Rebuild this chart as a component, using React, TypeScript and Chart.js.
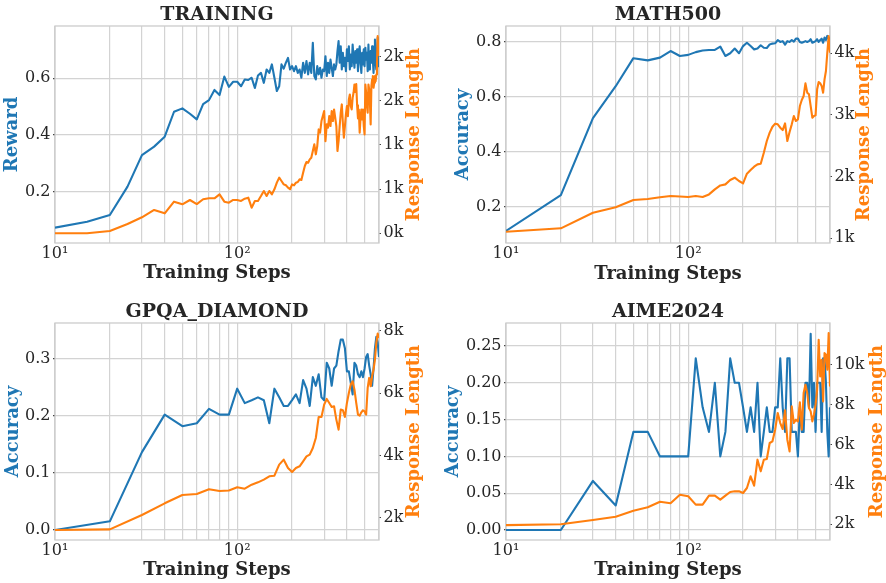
import React, { useEffect, useRef } from 'react';
import { Chart, registerables } from 'chart.js';

Chart.register(...registerables);

// ---------------- data ----------------
const TRAIN_STEPS = [
  10, 15, 20, 25, 30, 35, 40, 45, 50, 55, 60, 65, 70, 75, 80, 85, 90, 95, 100,
  105, 110, 115, 120, 125, 130, 135, 140, 145, 150, 155, 160, 165, 170, 175, 180, 185, 190, 195, 200,
  205, 210, 215, 220, 225, 230, 235, 240, 245, 250, 255, 260, 265, 270, 275, 280, 285, 290, 295, 300,
  305, 310, 315, 320, 325, 330, 335, 340, 345, 350, 355, 360, 365, 370, 375, 380, 385, 390, 395, 400,
  405, 410, 415, 420, 425, 430, 435, 440, 445, 450, 455, 460, 465, 470, 475, 480, 485, 490, 495, 500,
  505, 510, 515, 520, 525, 530, 535, 540, 545, 550, 555, 560, 565, 570, 575, 580, 585, 590, 595, 600,
];

const TRAIN_REWARD = [
  0.073, 0.094, 0.118, 0.218, 0.329, 0.359, 0.394, 0.482, 0.494, 0.475, 0.455, 0.509, 0.523, 0.559, 0.541, 0.606, 0.570, 0.588, 0.588,
  0.572, 0.596, 0.594, 0.602, 0.566, 0.610, 0.619, 0.584, 0.631, 0.619, 0.649, 0.602, 0.555, 0.572, 0.649, 0.634, 0.655, 0.672, 0.631, 0.643,
  0.625, 0.643, 0.619, 0.631, 0.602, 0.655, 0.619, 0.661, 0.614, 0.655, 0.619, 0.725, 0.608, 0.596, 0.643, 0.614, 0.637, 0.602, 0.631, 0.625,
  0.678, 0.608, 0.655, 0.619, 0.666, 0.637, 0.608, 0.649, 0.631, 0.649, 0.696, 0.731, 0.655, 0.713, 0.631, 0.690, 0.643, 0.672, 0.625, 0.702,
  0.661, 0.713, 0.631, 0.684, 0.643, 0.719, 0.672, 0.637, 0.696, 0.655, 0.702, 0.625, 0.678, 0.713, 0.655, 0.619, 0.690, 0.649, 0.702, 0.643,
  0.708, 0.666, 0.690, 0.625, 0.719, 0.631, 0.672, 0.696, 0.655, 0.713, 0.666, 0.619, 0.678, 0.737, 0.655, 0.631, 0.678, 0.743, 0.643, 0.672,
];

const TRAIN_LENGTH = [
  500, 500, 526, 605, 681, 764, 726, 858, 828, 877, 831, 885, 896, 896, 941, 858, 846, 877, 877,
  866, 892, 903, 790, 866, 866, 922, 979, 922, 979, 941, 998, 1073, 1130, 1092, 1054, 1043, 1017, 998, 1054,
  1043, 1073, 1081, 1111, 1103, 1186, 1262, 1307, 1299, 1337, 1356, 1431, 1507, 1394, 1488, 1676, 1639, 1771, 1827, 1884,
  1544, 1733, 1695, 1827, 1714, 1884, 1771, 1902, 1808, 1714, 1431, 1544, 1714, 1865, 1959, 1752, 1582, 1714, 1846, 1940,
  1827, 2016, 2072, 1940, 1902, 2034, 2091, 2185, 2100, 2190, 1950, 1800, 1900, 1640, 1800, 1902, 1789, 1902, 1714, 1620,
  2185, 2091, 1940, 1865, 2185, 2129, 1978, 1733, 2166, 2242, 2280, 2148, 2204, 2280, 2223, 2298, 2430, 2732, 2581, 2506,
];

const EVAL_STEPS = [
  10, 20, 30, 40, 50, 60, 70, 80, 90, 100,
  110, 120, 130, 140, 150, 160, 170, 180, 190, 200,
  210, 220, 230, 240, 250, 260, 270, 280, 290, 300,
  310, 320, 330, 340, 350, 360, 370, 380, 390, 400,
  410, 420, 430, 440, 450, 460, 470, 480, 490, 500,
  510, 520, 530, 540, 550, 560, 570, 580, 590, 600,
];

const MATH_ACC = [
  0.112, 0.242, 0.522, 0.638, 0.740, 0.732, 0.742, 0.766, 0.748, 0.752,
  0.762, 0.768, 0.770, 0.770, 0.782, 0.748, 0.758, 0.775, 0.758, 0.784,
  0.796, 0.784, 0.772, 0.775, 0.787, 0.778, 0.777, 0.790, 0.793, 0.794,
  0.806, 0.799, 0.802, 0.789, 0.802, 0.799, 0.806, 0.800, 0.811, 0.811,
  0.799, 0.796, 0.799, 0.802, 0.799, 0.802, 0.809, 0.796, 0.799, 0.802,
  0.809, 0.799, 0.806, 0.811, 0.796, 0.815, 0.806, 0.821, 0.809, 0.815,
];
const MATH_LEN = [
  1107, 1162, 1415, 1503, 1621, 1637, 1665, 1686, 1678, 1669,
  1685, 1669, 1712, 1794, 1858, 1875, 1945, 1983, 1929, 1891,
  2048, 2107, 2161, 2199, 2210, 2388, 2578, 2713, 2810, 2859,
  2848, 2794, 2756, 2864, 2578, 2724, 2848, 2983, 2902, 2929,
  3145, 3243, 3308, 3513, 3362, 3335, 3145, 2956, 2983, 2994,
  3416, 3535, 3513, 3470, 3362, 3578, 3713, 4010, 4281, 4010,
];

const GPQA_ACC = [
  0.0, 0.0152, 0.1364, 0.2020, 0.1818, 0.1869, 0.2121, 0.2020, 0.2020, 0.2475,
  0.2222, 0.2273, 0.2323, 0.2273, 0.1869, 0.2475, 0.2323, 0.2172, 0.2172, 0.2273,
  0.2374, 0.2222, 0.2626, 0.2475, 0.2172, 0.2677, 0.2525, 0.2727, 0.2323, 0.2273,
  0.2929, 0.2828, 0.2525, 0.2828, 0.2879, 0.3131, 0.3333, 0.3333, 0.3182, 0.2778,
  0.2778, 0.2576, 0.2374, 0.2929, 0.2879, 0.2727, 0.2677, 0.2778, 0.2677, 0.2828,
  0.3030, 0.3081, 0.2879, 0.2727, 0.2525, 0.2828, 0.3182, 0.3384, 0.3283, 0.3030,
];
const GPQA_LEN = [
  1605, 1627, 2087, 2462, 2729, 2761, 2911, 2857, 2873, 2975,
  2932, 3060, 3135, 3221, 3328, 3349, 3702, 3863, 3596, 3467,
  3596, 3649, 3810, 3970, 4024, 4237, 4558, 5233, 5233, 5629,
  5810, 5682, 5554, 5575, 5147, 4826, 5468, 5447, 5233, 5682,
  6003, 6271, 6378, 6110, 5682, 5308, 5275, 5382, 5447, 5414,
  5308, 6164, 6485, 6217, 6538, 6752, 7073, 7608, 7908, 7768,
];

const AIME_ACC = [
  0.0, 0.0, 0.0667, 0.0333, 0.1333, 0.1333, 0.1, 0.1, 0.1, 0.1,
  0.2333, 0.1667, 0.1333, 0.2, 0.1, 0.1333, 0.2333, 0.2, 0.2, 0.1667,
  0.1333, 0.1667, 0.1333, 0.2, 0.1, 0.1333, 0.1667, 0.1333, 0.1333, 0.1667,
  0.1667, 0.2333, 0.1667, 0.1333, 0.2333, 0.2333, 0.1333, 0.1333, 0.1333, 0.1,
  0.1667, 0.1333, 0.1333, 0.2, 0.2, 0.1667, 0.2667, 0.1667, 0.2, 0.1333,
  0.2, 0.2, 0.2, 0.1333, 0.2333, 0.2333, 0.2, 0.1333, 0.1, 0.1667,
];
const AIME_LEN = [
  1960, 2000, 2215, 2382, 2683, 2853, 3135, 3054, 3489, 3405,
  2987, 2987, 3439, 3439, 3238, 3439, 3623, 3656, 3656, 3573,
  3824, 4409, 3941, 5246, 4660, 5246, 5279, 6082, 6166, 6751,
  7588, 7086, 6785, 7722, 6249, 5664, 7923, 7086, 7253, 7169,
  8123, 6751, 8592, 9010, 8592, 7839, 7672, 7169, 7504, 8006,
  8759, 11270, 9428, 10265, 8173, 10599, 10515, 9763, 11603, 8926,
];

const X_GRID_TICKS = [10, 20, 30, 40, 50, 60, 70, 80, 90, 100, 200, 300, 400, 500, 600];
const X_TICK_LABELS: Record<number, string> = { 10: '10\u00B9', 100: '10\u00B2' };

const REWARD_TICKS = [0.2, 0.4, 0.6];
const TRAIN_LEN_TICKS = [500, 1000, 1500, 2000, 2500];
const MATH_ACC_TICKS = [0.2, 0.4, 0.6, 0.8];
const MATH_LEN_TICKS = [1000, 2000, 3000, 4000];
const GPQA_ACC_TICKS = [0.0, 0.1, 0.2, 0.3];
const GPQA_LEN_TICKS = [2000, 4000, 6000, 8000];
const AIME_ACC_TICKS = [0.0, 0.05, 0.1, 0.15, 0.2, 0.25];
const AIME_LEN_TICKS = [2000, 4000, 6000, 8000, 10000];

// ---------------- styles ----------------
const BLUE = '#1f77b4';
const ORANGE = '#ff7f0e';
const TEXT = '#262626';
const GRID = '#d3d3d3';
const FRAME = '#cccccc';
const TICKMARK = '#444444';
const FONT = '"DejaVu Serif", serif';

type PanelCfg = {
  key: string;
  title: string;
  leftLabel: string;
  box: { left: number; top: number; w: number; h: number };
  area: { l: number; r: number; t: number; b: number };
  steps: number[];
  blue: number[];
  orange: number[];
  yl: { min: number; max: number; ticks: number[]; dec: number };
  yr: { min: number; max: number; ticks: number[] };
  text: { titleY: number; leftX: number; rightX: number; bottomY: number };
};

const PANELS: PanelCfg[] = [
  {
    key: 'train', title: 'TRAINING', leftLabel: 'Reward',
    box: { left: 0, top: 0, w: 443, h: 290 },
    area: { l: 55, r: 64, t: 26, b: 47 },
    steps: TRAIN_STEPS, blue: TRAIN_REWARD, orange: TRAIN_LENGTH,
    yl: { min: 0.019, max: 0.7845, ticks: REWARD_TICKS, dec: 1 },
    yr: { min: 390, max: 2847, ticks: TRAIN_LEN_TICKS },
    text: { titleY: 15, leftX: 12, rightX: 414, bottomY: 273 },
  },
  {
    key: 'math', title: 'MATH500', leftLabel: 'Accuracy',
    box: { left: 443, top: 0, w: 443, h: 290 },
    area: { l: 63, r: 56, t: 26, b: 47 },
    steps: EVAL_STEPS, blue: MATH_ACC, orange: MATH_LEN,
    yl: { min: 0.068, max: 0.857, ticks: MATH_ACC_TICKS, dec: 1 },
    yr: { min: 924, max: 4443, ticks: MATH_LEN_TICKS },
    text: { titleY: 15, leftX: 20.5, rightX: 421.5, bottomY: 274 },
  },
  {
    key: 'gpqa', title: 'GPQA_DIAMOND', leftLabel: 'Accuracy',
    box: { left: 0, top: 290, w: 443, h: 293 },
    area: { l: 55, r: 64, t: 33, b: 43 },
    steps: EVAL_STEPS, blue: GPQA_ACC, orange: GPQA_LEN,
    yl: { min: -0.0175, max: 0.3625, ticks: GPQA_ACC_TICKS, dec: 1 },
    yr: { min: 1285, max: 8247, ticks: GPQA_LEN_TICKS },
    text: { titleY: 22.5, leftX: 13, rightX: 414, bottomY: 280 },
  },
  {
    key: 'aime', title: 'AIME2024', leftLabel: 'Accuracy',
    box: { left: 443, top: 290, w: 443, h: 293 },
    area: { l: 63, r: 56, t: 33, b: 43 },
    steps: EVAL_STEPS, blue: AIME_ACC, orange: AIME_LEN,
    yl: { min: -0.0136, max: 0.2813, ticks: AIME_ACC_TICKS, dec: 2 },
    yr: { min: 1212, max: 12109, ticks: AIME_LEN_TICKS },
    text: { titleY: 22.5, leftX: 10, rightX: 434.5, bottomY: 280 },
  },
];

function makeDeco(p: PanelCfg) {
  return {
    id: 'deco_' + p.key,
    beforeDatasetsDraw(chart: any) {
      const { ctx, chartArea: a } = chart;
      ctx.save();
      ctx.strokeStyle = FRAME;
      ctx.lineWidth = 1.3;
      ctx.strokeRect(a.left, a.top, a.right - a.left, a.bottom - a.top);
      ctx.restore();
    },
    afterDraw(chart: any) {
      const { ctx, chartArea: a } = chart;
      const cx = (a.left + a.right) / 2;
      const cy = (a.top + a.bottom) / 2;
      ctx.save();
      ctx.textAlign = 'center';
      ctx.textBaseline = 'middle';
      ctx.fillStyle = TEXT;
      ctx.font = `bold 19px ${FONT}`;
      ctx.fillText(p.title, cx, p.text.titleY);
      ctx.font = `bold 18px ${FONT}`;
      ctx.fillText('Training Steps', cx, p.text.bottomY);
      ctx.fillStyle = BLUE;
      ctx.save();
      ctx.translate(p.text.leftX, cy);
      ctx.rotate(-Math.PI / 2);
      ctx.fillText(p.leftLabel, 0, 0);
      ctx.restore();
      ctx.fillStyle = ORANGE;
      ctx.save();
      ctx.translate(p.text.rightX, cy);
      ctx.rotate(-Math.PI / 2);
      ctx.fillText('Response Length', 0, 0);
      ctx.restore();
      ctx.restore();
    },
  };
}

function Panel({ p }: { p: PanelCfg }) {
  const ref = useRef<HTMLCanvasElement>(null);
  useEffect(() => {
    const tickFont = { family: FONT, size: 16 };
    const chart = new Chart(ref.current as HTMLCanvasElement, {
      type: 'line',
      data: {
        datasets: [
          {
            label: 'Response Length',
            data: p.steps.map((s, i) => ({ x: s, y: p.orange[i] })),
            yAxisID: 'y1',
            borderColor: ORANGE,
            backgroundColor: ORANGE,
            borderWidth: 2.1,
            pointRadius: 0,
            tension: 0,
            borderJoinStyle: 'round',
            order: 0,
            clip: 0,
          },
          {
            label: p.leftLabel,
            data: p.steps.map((s, i) => ({ x: s, y: p.blue[i] })),
            yAxisID: 'y',
            borderColor: BLUE,
            backgroundColor: BLUE,
            borderWidth: 2.1,
            pointRadius: 0,
            tension: 0,
            borderJoinStyle: 'round',
            order: 1,
            clip: 0,
          },
        ],
      } as any,
      options: {
        animation: false,
        responsive: true,
        maintainAspectRatio: false,
        events: [],
        layout: { padding: { top: p.area.t, left: 0, right: 0, bottom: 0 } },
        plugins: { legend: { display: false }, tooltip: { enabled: false }, title: { display: false } },
        scales: {
          x: {
            type: 'logarithmic',
            min: 10,
            max: 600,
            afterBuildTicks: (s: any) => { s.ticks = X_GRID_TICKS.map((v) => ({ value: v })); },
            afterFit: (s: any) => { s.height = p.area.b; },
            ticks: {
              callback: (v: any) => X_TICK_LABELS[Number(v)] ?? '',
              autoSkip: false, maxRotation: 0, minRotation: 0, padding: 1,
              color: TEXT, font: tickFont,
            },
            grid: { color: GRID, lineWidth: 1.2, drawTicks: false },
            border: { display: false },
          },
          y: {
            type: 'linear',
            position: 'left',
            min: p.yl.min,
            max: p.yl.max,
            afterBuildTicks: (s: any) => { s.ticks = p.yl.ticks.map((v) => ({ value: v })); },
            afterFit: (s: any) => { s.width = p.area.l; },
            ticks: {
              callback: (v: any) => Number(v).toFixed(p.yl.dec),
              padding: 2.5, color: TEXT, font: tickFont,
            },
            grid: { color: GRID, lineWidth: 1.2, drawTicks: true, tickLength: 2, tickColor: TICKMARK },
            border: { display: false },
          },
          y1: {
            type: 'linear',
            position: 'right',
            min: p.yr.min,
            max: p.yr.max,
            afterBuildTicks: (s: any) => { s.ticks = p.yr.ticks.map((v) => ({ value: v })); },
            afterFit: (s: any) => { s.width = p.area.r; },
            ticks: {
              callback: (v: any) => Math.floor(Number(v) / 1000) + 'k',
              padding: 2.5, color: TEXT, font: tickFont,
            },
            grid: { drawOnChartArea: false, drawTicks: true, tickLength: 2, tickColor: TICKMARK, lineWidth: 1 },
            border: { display: false },
          },
        },
      } as any,
      plugins: [makeDeco(p)],
    });
    return () => chart.destroy();
  }, [p]);
  return (
    <div style={{ position: 'absolute', left: p.box.left, top: p.box.top, width: p.box.w, height: p.box.h }}>
      <canvas ref={ref} />
    </div>
  );
}

export default function App() {
  return (
    <div style={{ position: 'absolute', left: 0, top: 0, width: 886, height: 583, background: '#ffffff' }}>
      {PANELS.map((p) => (
        <Panel key={p.key} p={p} />
      ))}
    </div>
  );
}
